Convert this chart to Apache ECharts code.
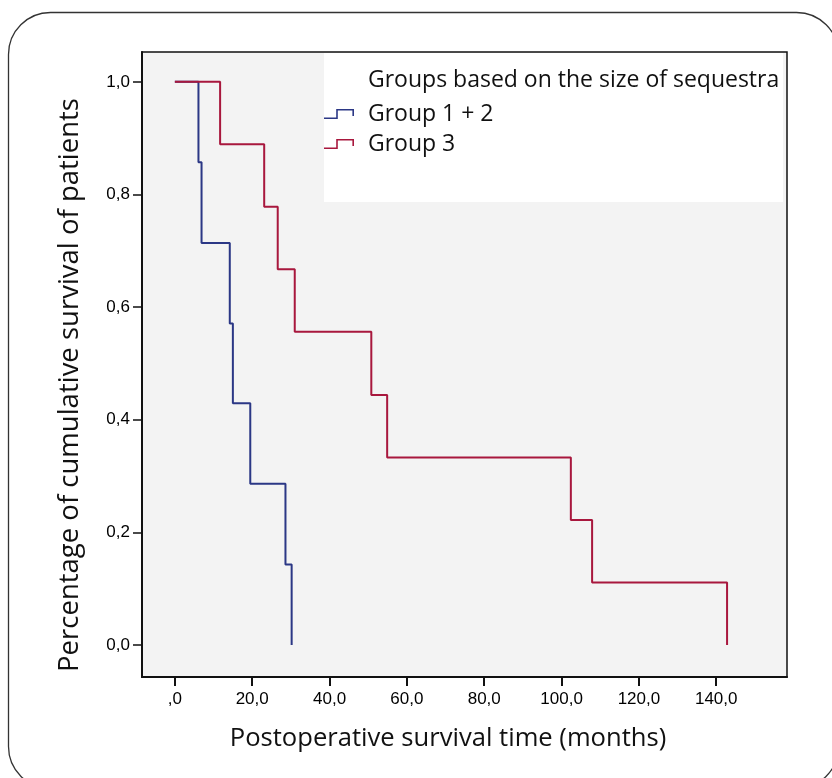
<!DOCTYPE html>
<html>
<head>
<meta charset="utf-8">
<script src="https://cdn.jsdelivr.net/npm/echarts@6/dist/echarts.min.js"></script>
<style>
  html, body { margin: 0; padding: 0; background: #fff; }
  #km-chart { width: 832px; height: 778px; }
</style>
</head>
<body>
<div id="km-chart"></div>
<script>
// Kaplan-Meier steps (months, cumulative survival)
var group12Time = [0, 6.1, 6.9, 14.2, 15.0, 19.5, 28.6, 30.2];
var group12Surv = [1, 0.857, 0.714, 0.571, 0.429, 0.286, 0.143, 0];
var group3Time = [0, 11.7, 23.1, 26.6, 31.0, 50.8, 54.9, 102.4, 107.9, 142.8];
var group3Surv = [1, 0.889, 0.778, 0.667, 0.556, 0.444, 0.333, 0.222, 0.111, 0];

var seriesNames = ['Group 1 + 2', 'Group 3'];
var xTicks = [0, 20, 40, 60, 80, 100, 120, 140];
var yTicks = [0, 0.2, 0.4, 0.6, 0.8, 1.0];

function pairs(t, s) {
    return t.map(function (v, i) { return [v, s[i]]; });
}

// little step glyph used by SPSS legends
var stepIcon = 'path://M0,8.4 H12.2 V0 H30 V7 H28.4 V1.6 H13.8 V10 H0 Z';

var tickFont = 'Arial, "Liberation Sans", sans-serif';

var myChart = echarts.init(document.getElementById('km-chart'));

var option = {
    backgroundColor: '#fff',
    animation: false,
    textStyle: { fontFamily: '"Open Sans", sans-serif' },
    grid: {
        left: 142, top: 52, right: 45, bottom: 101,
        show: true,
        backgroundColor: '#f3f3f3',
        borderColor: '#111',
        borderWidth: 1.5
    },
    graphic: [
        {   // rounded card border
            type: 'rect', z: 0, silent: true,
            shape: { x: 8.5, y: 12.5, width: 830, height: 776, r: 42 },
            style: { fill: 'none', stroke: '#333', lineWidth: 1.3 }
        },
        {   // white legend box
            type: 'rect', z: 1, silent: true,
            shape: { x: 324, y: 53, width: 459, height: 149 },
            style: { fill: '#fff' }
        },
        {
            type: 'text', z: 5,
            style: {
                x: 368, y: 80,
                text: 'Groups based on the size of sequestra',
                font: '23px "Open Sans", sans-serif',
                fill: '#111',
                verticalAlign: 'middle'
            }
        },
        {
            type: 'text', z: 5,
            x: 70, y: 385, rotation: Math.PI / 2,
            style: {
                text: 'Percentage of cumulative survival of patients',
                font: '27.5px "Open Sans", sans-serif',
                fill: '#111',
                align: 'center',
                verticalAlign: 'middle'
            }
        },
        {
            type: 'text', z: 5,
            style: {
                x: 448, y: 739,
                text: 'Postoperative survival time (months)',
                font: '25.6px "Open Sans", sans-serif',
                fill: '#111',
                align: 'center',
                verticalAlign: 'middle'
            }
        }
    ],
    legend: {
        orient: 'vertical',
        left: 319,
        top: 95,
        itemWidth: 30,
        itemHeight: 10,
        itemGap: 2,
        data: [
            { name: seriesNames[0], icon: stepIcon },
            { name: seriesNames[1], icon: stepIcon }
        ],
        textStyle: { fontSize: 23, color: '#111', padding: [0, 0, 0, 9], lineHeight: 28 }
    },
    xAxis: {
        type: 'value',
        min: -8.5,
        max: 158.3,
        splitLine: { show: false },
        axisLine: { onZero: false, lineStyle: { color: '#111', width: 2 } },
        axisTick: { customValues: xTicks, length: 9, lineStyle: { color: '#111', width: 2 } },
        axisLabel: {
            customValues: xTicks,
            formatter: function (v) { return v === 0 ? ',0' : v.toFixed(1).replace('.', ','); },
            fontFamily: tickFont,
            fontSize: 17,
            color: '#000',
            margin: 14
        }
    },
    yAxis: {
        type: 'value',
        min: -0.057,
        max: 1.053,
        splitLine: { show: false },
        axisLine: { show: true, onZero: false, lineStyle: { color: '#111', width: 2 } },
        axisTick: { show: true, customValues: yTicks, length: 9, lineStyle: { color: '#111', width: 1.5 } },
        axisLabel: {
            customValues: yTicks,
            formatter: function (v) { return v.toFixed(1).replace('.', ','); },
            fontFamily: tickFont,
            fontSize: 17,
            color: '#000',
            margin: 12
        }
    },
    series: [
        {
            name: seriesNames[0],
            type: 'line',
            step: 'end',
            symbol: 'none',
            data: pairs(group12Time, group12Surv),
            color: '#2b3785',
            lineStyle: { width: 2, color: '#2b3785' },
            z: 2
        },
        {
            name: seriesNames[1],
            type: 'line',
            step: 'end',
            symbol: 'none',
            data: pairs(group3Time, group3Surv),
            color: '#a8173d',
            lineStyle: { width: 2, color: '#a8173d' },
            z: 3
        }
    ]
};

myChart.setOption(option);
</script>
</body>
</html>
